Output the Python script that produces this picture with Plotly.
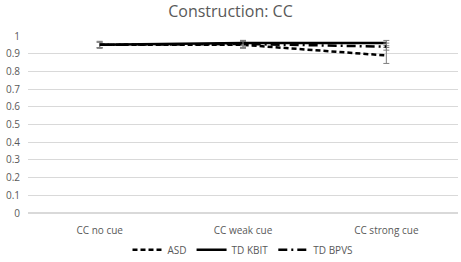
import plotly.graph_objects as go

categories = ["CC no cue", "CC weak cue", "CC strong cue"]
asd = [0.95, 0.95, 0.89]
asd_err = [0.02, 0.02, 0.045]
kbit = [0.95, 0.96, 0.96]
kbit_err = [0.015, 0.015, 0.015]
bpvs = [0.95, 0.955, 0.94]
bpvs_err = [0.015, 0.02, 0.02]
yticks = [0, 0.1, 0.2, 0.3, 0.4, 0.5, 0.6, 0.7, 0.8, 0.9, 1]

fig = go.Figure()
def add(name, y, err, dash):
    fig.add_trace(go.Scatter(
        x=categories, y=y, name=name, mode="lines",
        line=dict(color="black", width=2.5, dash=dash),
        error_y=dict(type="data", array=err, color="#7f7f7f", thickness=1, width=3),
    ))
add("ASD", asd, asd_err, "5px,3px")
add("TD KBIT", kbit, kbit_err, "solid")
add("TD BPVS", bpvs, bpvs_err, "9px,4px,2px,4px")

fig.update_layout(
    width=461, height=262,
    margin=dict(l=28, r=3, t=36, b=49, autoexpand=False),
    paper_bgcolor="white", plot_bgcolor="white",
    font=dict(family="Open Sans, sans-serif", color="#595959", size=10),
    title=dict(text="Construction: CC", x=0.5, xanchor="center", y=0.955, yanchor="middle",
               font=dict(size=16, color="#595959")),
    showlegend=True,
    legend=dict(orientation="h", x=0.5, xanchor="center", y=-0.125, yanchor="top",
                bgcolor="rgba(0,0,0,0)", tracegroupgap=0,
                font=dict(size=10, color="#595959")),
    xaxis=dict(range=[-0.5, 2.5], showgrid=False, showline=False, automargin=False,
               ticks="outside", ticklen=8, tickcolor="rgba(0,0,0,0)",
               tickfont=dict(size=10, color="#595959")),
    yaxis=dict(range=[0, 1.0], tickvals=yticks, ticktext=[f"{v:g}" for v in yticks], automargin=False,
               showgrid=True, gridcolor="#d9d9d9", gridwidth=1, zeroline=True, zerolinecolor="#d9d9d9",
               ticks="outside", ticklen=5, tickcolor="rgba(0,0,0,0)",
               tickfont=dict(size=10, color="#595959")),
)
fig.write_html("out.html", config={"displayModeBar": False},
               post_script="document.body.style.margin='0';")
